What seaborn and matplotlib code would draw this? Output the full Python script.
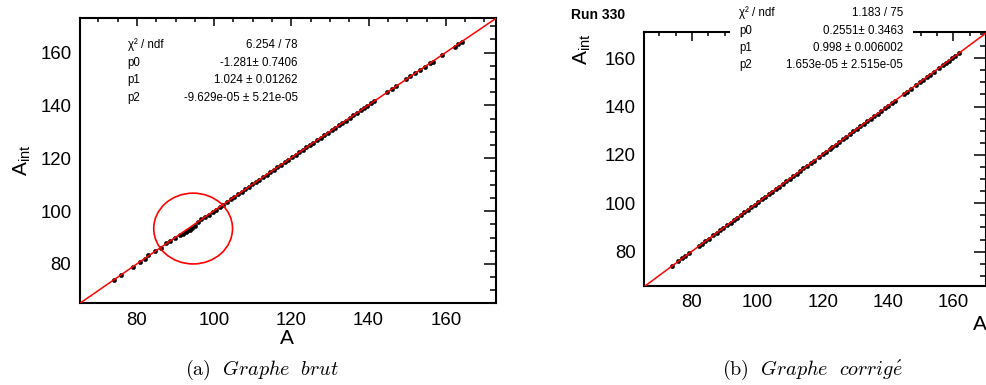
import numpy as np
import pandas as pd
import matplotlib
matplotlib.use("Agg")
import matplotlib.pyplot as plt
from matplotlib.patches import Ellipse, Rectangle
from matplotlib.ticker import MultipleLocator
import seaborn as sns

# ---------------- data ----------------
raw_A = [74.0, 75.9, 78.9, 80.8, 82.1, 83.0, 84.8, 86.3, 87.6, 88.6,
         89.9, 91.2, 92.0, 92.6, 93.1, 93.7, 94.3, 95.0, 95.7, 96.6,
         97.6, 98.6, 99.6, 100.5, 101.5, 102.4, 103.3, 104.3, 105.2, 106.1,
         107.1, 108.0, 108.9, 109.9, 110.8, 111.7, 112.7, 113.6, 114.5, 115.5,
         116.4, 117.3, 118.3, 119.2, 120.1, 121.1, 122.0, 122.9, 123.9, 124.8,
         125.7, 126.7, 127.6, 128.5, 129.5, 130.4, 131.3, 132.3, 133.2, 134.1,
         135.1, 136.0, 136.9, 137.9, 138.8, 139.7, 140.7, 141.5, 144.8, 146.0,
         147.2, 149.8, 150.8, 152.0, 153.2, 154.5, 155.8, 156.6, 159.0, 162.3,
         163.2, 164.1]
raw_Aint = [73.9, 76.0, 78.8, 80.9, 82.0, 83.2, 84.8, 86.2, 87.8, 88.7,
            89.8, 90.8, 91.4, 92.0, 92.5, 93.0, 93.7, 94.5, 95.9, 96.9,
            97.8, 98.7, 99.8, 100.6, 101.7, 102.5, 103.5, 104.4, 105.4, 106.3,
            107.3, 108.2, 109.1, 110.1, 111.0, 111.9, 112.9, 113.8, 114.7, 115.7,
            116.6, 117.5, 118.5, 119.4, 120.3, 121.3, 122.2, 123.1, 124.1, 125.0,
            125.9, 126.9, 127.8, 128.7, 129.7, 130.6, 131.5, 132.5, 133.4, 134.3,
            135.3, 136.2, 137.1, 138.1, 139.0, 139.9, 140.8, 141.5, 145.0, 146.1,
            147.3, 149.9, 151.0, 152.1, 153.3, 154.7, 155.9, 156.6, 159.1, 162.3,
            163.3, 164.1]
raw_fit_A = [65.2, 80.0, 100.0, 120.0, 140.0, 160.0, 172.9]
raw_fit_Aint = [65.07, 80.02, 100.16, 120.21, 140.19, 160.09, 172.89]

cor_A = [74.0, 75.8, 76.9, 77.9, 79.1, 82.0, 83.0, 84.1, 85.2, 86.4,
         87.5, 88.6, 89.6, 90.7, 91.8, 92.8, 93.9, 95.0, 96.0, 97.1,
         98.1, 99.2, 100.3, 101.3, 102.4, 103.5, 104.5, 105.6, 106.7, 107.7,
         108.8, 109.9, 110.9, 112.0, 113.1, 114.1, 115.2, 116.3, 117.3, 118.9,
         120.0, 121.1, 122.1, 123.0, 124.0, 125.1, 126.2, 127.2, 128.3, 129.4,
         130.4, 131.5, 132.6, 133.6, 134.7, 135.8, 136.8, 137.9, 139.0, 140.0,
         141.1, 142.2, 144.8, 145.9, 147.0, 148.6, 149.7, 150.8, 151.8, 152.9,
         154.0, 155.6, 156.7, 157.8, 158.6, 159.5, 160.6, 161.7]
cor_Aint = [74.2, 76.0, 77.2, 78.1, 79.3, 82.2, 83.3, 84.3, 85.4, 86.7,
            87.7, 88.8, 89.9, 90.9, 92.0, 93.1, 94.1, 95.2, 96.3, 97.3,
            98.4, 99.4, 100.5, 101.6, 102.6, 103.7, 104.8, 105.8, 106.9, 108.0,
            109.1, 110.1, 111.2, 112.2, 113.4, 114.4, 115.5, 116.5, 117.6, 119.2,
            120.2, 121.4, 122.4, 123.3, 124.3, 125.4, 126.5, 127.5, 128.6, 129.7,
            130.7, 131.8, 132.9, 133.9, 135.0, 136.1, 137.1, 138.2, 139.3, 140.3,
            141.4, 142.5, 145.1, 146.2, 147.3, 148.9, 150.0, 151.1, 152.2, 153.2,
            154.3, 155.9, 157.1, 158.1, 158.9, 159.9, 160.9, 162.0]
cor_fit_A = [65.3, 80.0, 100.0, 120.0, 140.0, 160.0, 170.0]
cor_fit_Aint = [65.49, 80.20, 100.22, 120.25, 140.30, 160.36, 170.39]

raw_stats_labels = ["χ² / ndf", "p0", "p1", "p2"]
raw_stats_values = ["6.254 / 78", "-1.281± 0.7406", "1.024 ± 0.01262",
                    "-9.629e-05 ± 5.21e-05"]
cor_stats_labels = ["χ² / ndf", "p0", "p1", "p2"]
cor_stats_values = ["1.183 / 75", "0.2551± 0.3463", "0.998 ± 0.006002",
                    "1.653e-05 ± 2.515e-05"]

tick_values = [80, 100, 120, 140, 160]
run_label = "Run 330"
caption_a = r"$\mathrm{(a)}\ \ \mathit{Graphe\ \ brut}$"
caption_b = r"$\mathrm{(b)}\ \ \mathit{Graphe\ \ corrig\acute{e}}$"

df_raw = pd.DataFrame({"A": raw_A, "Aint": raw_Aint})
df_cor = pd.DataFrame({"A": cor_A, "Aint": cor_Aint})
df_raw_fit = pd.DataFrame({"A": raw_fit_A, "Aint": raw_fit_Aint})
df_cor_fit = pd.DataFrame({"A": cor_fit_A, "Aint": cor_fit_Aint})

# ---------------- style ----------------
sns.set_style("white")
plt.rcParams["font.family"] = ["Liberation Sans", "DejaVu Sans"]
plt.rcParams["mathtext.fontset"] = "custom"
plt.rcParams["mathtext.rm"] = "Liberation Sans"
plt.rcParams["mathtext.it"] = "Liberation Sans:italic"
for key in ["text.color", "axes.labelcolor", "xtick.color", "ytick.color",
            "axes.edgecolor"]:
    plt.rcParams[key] = "black"

fig = plt.figure(figsize=(9.87, 3.85), dpi=100)
fig.patch.set_facecolor("white")

ax1 = fig.add_axes([0.0808, 0.2122, 0.4214, 0.7403])
ax2 = fig.add_axes([0.6525, 0.2571, 0.3465, 0.6590])


def style_axes(ax, xlim, ylim, xmaj_len, xmin_len):
    ax.set_xlim(*xlim)
    ax.set_ylim(*ylim)
    ax.set_xticks(tick_values)
    ax.set_yticks(tick_values)
    ax.xaxis.set_minor_locator(MultipleLocator(5))
    ax.yaxis.set_minor_locator(MultipleLocator(5))
    for s in ax.spines.values():
        s.set_visible(True)
        s.set_linewidth(1.5)
        s.set_color("black")
    ax.tick_params(which="both", direction="in", top=True, right=True,
                   width=1.1, color="black", labelcolor="black")
    ax.tick_params(axis="x", which="major", length=xmaj_len, labelsize=13.4, pad=6)
    ax.tick_params(axis="x", which="minor", length=xmin_len)
    ax.tick_params(axis="y", which="major", length=8.6, labelsize=13.4, pad=6)
    ax.tick_params(axis="y", which="minor", length=4.3)
    ax.grid(False)


for ax, d, f in [(ax1, df_raw, df_raw_fit), (ax2, df_cor, df_cor_fit)]:
    sns.lineplot(data=f, x="A", y="Aint", ax=ax, color="#ff0000", lw=1.1,
                 sort=False, zorder=3)
    sns.scatterplot(data=d, x="A", y="Aint", ax=ax, color="black", s=10,
                    edgecolor="black", linewidth=0.3, zorder=2)

style_axes(ax1, (65.2, 172.9), (65.1, 173.0), 6.0, 3.0)
style_axes(ax2, (65.3, 170.0), (65.8, 170.7), 6.5, 3.2)

ax1.add_patch(Ellipse((94.56, 93.4), width=20.4, height=26.8, fill=False,
                      edgecolor="#ff0000", lw=1.2, zorder=4))

# axis labels
ax1.set_xlabel("A", fontsize=15, ha="center", va="center")
ax1.xaxis.set_label_coords(0.2908, 0.1195, transform=fig.transFigure)
ax1.set_ylabel(r"$\mathregular{A_{int}}$", fontsize=15, ha="center", va="center",
               rotation=90, rotation_mode="anchor")
ax1.yaxis.set_label_coords(0.0223, 0.5844, transform=fig.transFigure)

ax2.set_xlabel("A", fontsize=15, ha="right", va="center")
ax2.xaxis.set_label_coords(0.9995, 0.156, transform=fig.transFigure)
ax2.set_ylabel(r"$\mathregular{A_{int}}$", fontsize=15, ha="right", va="center",
               rotation=90, rotation_mode="anchor")
ax2.yaxis.set_label_coords(0.5897, 0.914, transform=fig.transFigure)

# stats boxes
raw_rows = [0.8831, 0.8364, 0.7922, 0.7455]
for lab, val, y in zip(raw_stats_labels, raw_stats_values, raw_rows):
    fig.text(0.1294, y, lab, fontsize=8.3, ha="left", va="center", zorder=6)
    fig.text(0.3019, y, val, fontsize=8.3, ha="right", va="center", zorder=6)

fig.add_artist(Rectangle((0.7396, 0.80), 0.1854, 0.21, transform=fig.transFigure,
                         facecolor="white", edgecolor="none", zorder=5))
cor_rows = [0.967, 0.920, 0.8745, 0.831]
for lab, val, y in zip(cor_stats_labels, cor_stats_values, cor_rows):
    fig.text(0.7487, y, lab, fontsize=8.3, ha="left", va="center", zorder=6)
    fig.text(0.9149, y, val, fontsize=8.3, ha="right", va="center", zorder=6)

fig.text(0.5785, 0.961, run_label, fontsize=10, fontweight="bold",
         ha="left", va="center", zorder=6)

# captions
fig.text(0.2655, 0.039, caption_a, fontsize=14.5, ha="center", va="center",
         math_fontfamily="cm")
fig.text(0.8232, 0.039, caption_b, fontsize=14.5, ha="center", va="center",
         math_fontfamily="cm")

fig.savefig("out.png", dpi=100)
